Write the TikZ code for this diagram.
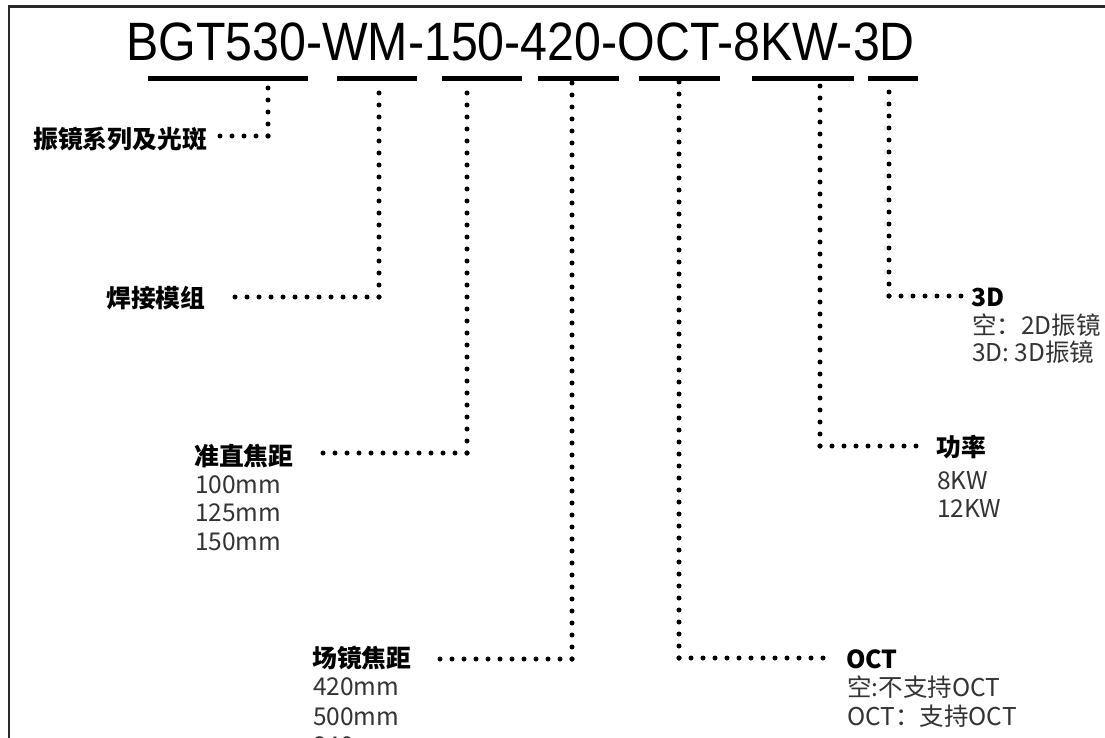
\documentclass[tikz,border=0pt]{standalone}
\usepackage{fontspec}
\setmainfont{Liberation Sans}
\newfontfamily\cjk{Noto Sans CJK SC}
\newfontfamily\titlefont{Liberation Sans}
\definecolor{optgray}{HTML}{333333}
\definecolor{framegray}{HTML}{2A2A2A}
\begin{document}
\begin{tikzpicture}[x=1pt,y=-1pt,
  bar/.style={fill=black, draw=none, inner sep=0pt, minimum height=5pt},
  dotline/.style={line width=5pt, line cap=round, dash pattern=on 0pt off 12pt, black},
  head/.style={font=\cjk\bfseries\fontsize{24.8}{28}\selectfont, anchor=base west, inner sep=0pt, text=black},
  opt/.style={font=\cjk\fontsize{24.5}{28}\selectfont, anchor=base west, inner sep=0pt, text=optgray},
]
\clip (0,0) rectangle (1105,738);
\fill[white] (0,0) rectangle (1105,738);
% frame
\draw[framegray, line width=2.5pt] (9,740) -- (9,6.5) -- (1106,6.5);

% title
\node[anchor=base west, inner sep=0pt, font=\titlefont\fontsize{54}{60}\selectfont] (title) at (126,61)
  {\scalebox{0.895}[1]{BGT530-WM-150-420-OCT-8KW-3D}};

% bars
\node[bar, minimum width=160pt] (b1) at (228,78.5) {};
\node[bar, minimum width=80pt]  (b2) at (377,78.5) {};
\node[bar, minimum width=80pt]  (b3) at (482,78.5) {};
\node[bar, minimum width=81pt]  (b4) at (578.5,78.5) {};
\node[bar, minimum width=81pt]  (b5) at (679.5,78.5) {};
\node[bar, minimum width=102pt] (b6) at (803,78.5) {};
\node[bar, minimum width=50pt]  (b7) at (893,78.5) {};

% corners
\coordinate (c1) at (268,136);
\coordinate (c2) at (379,297);
\coordinate (c3) at (467,453);
\coordinate (c4) at (572,659);
\coordinate (c5) at (679,658);
\coordinate (c6) at (820,446);
\coordinate (c7) at (889,296);

% headings
\node[head] (l1) at (33,149) {振镜系列及光斑};
\node[head] (l2) at (106,307) {焊接模组};
\node[head] (l3) at (194,465) {准直焦距};
\node[head] (l4) at (312,667) {场镜焦距};
\node[head] (l5) at (846,668) {OCT};
\node[head] (l6) at (936,456) {功率};
\node[head] (l7) at (971,306) {3D};

% options
\node[opt] (o31) at (195,493) {100mm};
\node[opt] (o32) at (195,521.5) {125mm};
\node[opt] (o33) at (195,550) {150mm};
\node[opt] (o41) at (313,695) {420mm};
\node[opt] (o42) at (313,725) {500mm};
\node[opt] (o43) at (313,754) {340mm};
\node[opt] (o51) at (847,696.5) {空:不支持OCT};
\node[opt] (o52) at (847,725.5) {OCT：支持OCT};
\node[opt] (o61) at (937,489.5) {8KW};
\node[opt] (o62) at (937,517) {12KW};
\node[opt] (o71) at (972,334) {空：2D振镜};
\node[opt] (o72) at (972,361) {3D: 3D振镜};

% connector end points next to the labels
\coordinate (e1) at ([xshift=12pt]l1.east);
\coordinate (e2) at ([xshift=26pt]l2.east);
\coordinate (e3) at ([xshift=26pt]l3.east);
\coordinate (e4) at ([xshift=20pt]l4.east);
\coordinate (e5) at ([xshift=-14pt]l5.west);
\coordinate (e6) at ([xshift=-10pt]l6.west);
\coordinate (e7) at ([xshift=-10pt]l7.west);

% connectors
\draw[dotline] (c1) -- (c1 |- b1.south);
\draw[dotline] (c1) -- (c1 -| e1);
\draw[dotline] (c2) -- (c2 |- b2.south);
\draw[dotline] (c2) -- (c2 -| e2);
\draw[dotline] (c3) -- (c3 |- b3.south);
\draw[dotline] (c3) -- (c3 -| e3);
\draw[dotline] (c4) -- (c4 |- b4.south);
\draw[dotline] (c4) -- (c4 -| e4);
\draw[dotline] (c5) -- (c5 |- b5.south);
\draw[dotline] (c5) -- (c5 -| e5);
\draw[dotline] (c6) -- (c6 |- b6.south);
\draw[dotline] (c6) -- (c6 -| e6);
\draw[dotline] (c7) -- (c7 |- b7.south);
\draw[dotline] (c7) -- (c7 -| e7);
\end{tikzpicture}
\end{document}
